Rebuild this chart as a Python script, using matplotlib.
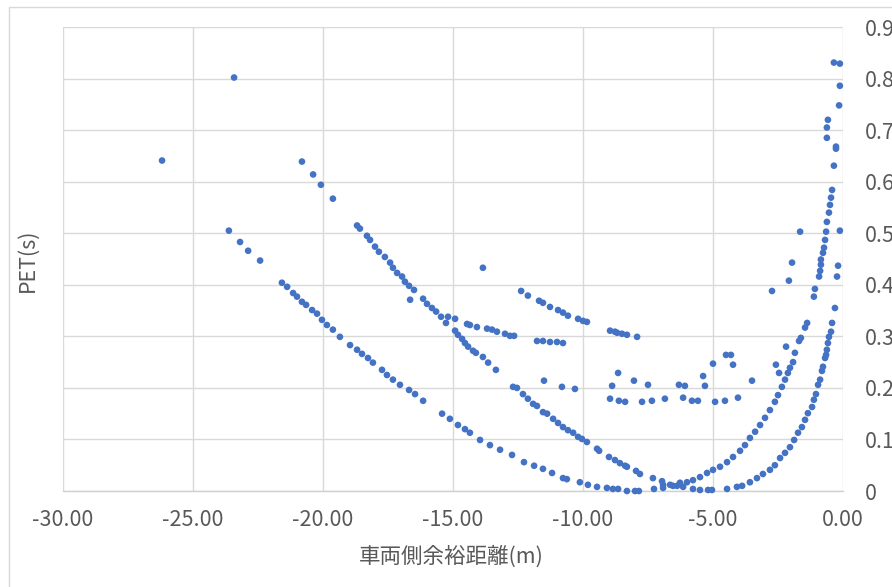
import matplotlib.pyplot as plt
import numpy as np
from matplotlib.patches import Rectangle

plt.rcParams['font.family'] = ['Noto Sans CJK JP', 'DejaVu Sans']

# x = 車両側余裕距離 (m), y = PET (s)
outlier_x = [-26.19, -23.42, -13.85, -16.65]
outlier_y = [0.641, 0.802, 0.433, 0.371]

curve_a_x = [-23.62, -23.19, -22.88, -22.42, -21.58, -21.38, -21.15, -21.00, -20.81, -20.65,
             -20.42, -20.23, -20.04, -19.85, -19.62, -19.35, -18.96, -18.69, -18.50, -18.27,
             -18.08, -17.73, -17.54, -17.31, -17.04, -16.69, -16.46, -16.15, -15.42, -15.12,
             -14.81, -14.54, -14.35, -13.96, -13.58, -13.19, -12.73, -12.27, -11.88, -11.54,
             -11.19, -10.77, -10.62, -10.12, -9.81, -9.46, -9.08, -8.85, -8.65, -8.31,
             -8.00, -7.85, -7.27, -6.92, -6.54, -6.15, -5.77, -5.50, -5.19, -5.04, -4.46]
curve_a_y = [0.505, 0.483, 0.466, 0.447, 0.404, 0.396, 0.384, 0.377, 0.367, 0.361,
             0.351, 0.344, 0.332, 0.322, 0.313, 0.299, 0.283, 0.274, 0.266, 0.258,
             0.249, 0.235, 0.225, 0.216, 0.206, 0.196, 0.188, 0.175, 0.150, 0.140,
             0.128, 0.120, 0.113, 0.099, 0.089, 0.080, 0.070, 0.056, 0.049, 0.043,
             0.035, 0.025, 0.023, 0.017, 0.012, 0.008, 0.006, 0.004, 0.004, 0.000,
             0.000, 0.000, 0.004, 0.006, 0.010, 0.008, 0.004, 0.002, 0.002, 0.002, 0.004]

curve_b_x = [-20.81, -20.38, -20.08, -19.62, -18.69, -18.58, -18.31, -18.19, -18.00, -17.85,
             -17.62, -17.42, -17.31, -17.15, -16.96, -16.85, -16.69, -16.50, -16.15, -16.00,
             -15.81, -15.65, -15.46, -15.27, -14.92, -14.81, -14.65, -14.54, -14.42, -14.23,
             -14.12, -13.85, -13.65, -13.35, -12.69, -12.54, -12.31, -12.12, -11.92, -11.77,
             -11.54, -11.38, -11.15, -10.96, -10.77, -10.58, -10.38, -10.19, -10.04, -9.85,
             -9.46, -9.38, -9.00, -8.77, -8.58, -8.38, -8.31, -7.96, -7.81, -7.31,
             -6.96, -6.92, -6.38]
curve_b_y = [0.639, 0.614, 0.594, 0.567, 0.515, 0.509, 0.495, 0.487, 0.474, 0.464,
             0.454, 0.443, 0.433, 0.423, 0.416, 0.406, 0.398, 0.390, 0.373, 0.363,
             0.355, 0.348, 0.338, 0.326, 0.311, 0.303, 0.295, 0.287, 0.280, 0.272,
             0.268, 0.260, 0.249, 0.235, 0.202, 0.200, 0.188, 0.179, 0.169, 0.165,
             0.153, 0.150, 0.140, 0.132, 0.124, 0.118, 0.113, 0.105, 0.101, 0.095,
             0.082, 0.078, 0.066, 0.060, 0.054, 0.049, 0.047, 0.039, 0.033, 0.025,
             0.019, 0.012, 0.010]

curve_c_x = [-6.65, -6.27, -6.00, -5.77, -5.50, -5.23, -5.00, -4.73, -4.46, -4.23,
             -3.96, -3.77, -3.58, -3.38, -3.19, -3.00, -2.81, -2.62, -2.50, -2.35,
             -2.23, -2.12, -2.04, -1.92, -1.85, -1.69, -1.62, -1.46, -1.38, -1.12,
             -1.08, -0.92, -0.88, -0.85, -0.85, -0.77, -0.73, -0.69, -0.65, -0.62,
             -0.54, -0.50, -0.46, -0.42, -0.35, -0.27, -0.27, -0.62, -0.58, -0.62]
curve_c_y = [0.012, 0.016, 0.017, 0.021, 0.027, 0.035, 0.041, 0.047, 0.056, 0.066,
             0.078, 0.089, 0.103, 0.115, 0.128, 0.142, 0.157, 0.173, 0.186, 0.202,
             0.216, 0.229, 0.239, 0.250, 0.268, 0.291, 0.297, 0.317, 0.326, 0.377,
             0.392, 0.416, 0.427, 0.439, 0.449, 0.462, 0.472, 0.487, 0.503, 0.522,
             0.540, 0.555, 0.569, 0.584, 0.631, 0.664, 0.668, 0.705, 0.720, 0.685]

curve_d_x = [-4.08, -3.88, -3.58, -3.31, -3.08, -2.81, -2.62, -2.42, -2.23, -2.04,
             -1.88, -1.73, -1.58, -1.46, -1.35, -1.19, -1.12, -1.04, -0.96, -0.88,
             -0.81, -0.77, -0.69, -0.65, -0.62, -0.58, -0.54, -0.46, -0.42, -0.31,
             -0.23, -0.19, -0.12, -0.15, -0.12, -0.12, -0.35]
curve_d_y = [0.008, 0.010, 0.017, 0.025, 0.033, 0.041, 0.050, 0.064, 0.074, 0.085,
             0.099, 0.113, 0.124, 0.138, 0.151, 0.163, 0.177, 0.188, 0.206, 0.216,
             0.233, 0.241, 0.258, 0.264, 0.274, 0.287, 0.299, 0.309, 0.326, 0.355,
             0.416, 0.437, 0.505, 0.748, 0.786, 0.829, 0.831]

curve_e_x = [-12.38, -12.12, -11.69, -11.54, -11.27, -10.96, -10.77, -10.58, -10.19, -10.00,
             -9.85, -8.96, -8.77, -8.69, -8.50, -8.31, -7.92]
curve_e_y = [0.388, 0.379, 0.369, 0.365, 0.357, 0.351, 0.346, 0.340, 0.334, 0.330,
             0.328, 0.311, 0.309, 0.307, 0.305, 0.303, 0.299]

curve_f_x = [-15.19, -14.92, -14.46, -14.35, -14.08, -13.69, -13.50, -13.31, -13.00, -12.81,
             -12.65, -11.77, -11.54, -11.27, -11.00, -10.77]
curve_f_y = [0.338, 0.334, 0.324, 0.322, 0.318, 0.315, 0.313, 0.309, 0.305, 0.301,
             0.301, 0.291, 0.291, 0.289, 0.289, 0.287]

scatter_x = [-11.50, -10.81, -10.31, -8.88, -8.65, -8.04, -7.50, -6.31, -6.08, -5.38,
             -5.31, -5.00, -4.50, -4.31, -4.23, -3.50, -2.73, -2.58, -2.46, -2.19,
             -2.08, -1.96, -1.65,
             -8.96, -8.62, -8.38, -7.73, -7.35, -6.85, -6.15, -5.81, -5.58, -4.92,
             -4.54, -4.04]
scatter_y = [0.214, 0.202, 0.198, 0.204, 0.229, 0.214, 0.206, 0.206, 0.204, 0.223,
             0.204, 0.247, 0.264, 0.264, 0.245, 0.214, 0.388, 0.245, 0.229, 0.280,
             0.408, 0.443, 0.503,
             0.179, 0.175, 0.173, 0.173, 0.175, 0.179, 0.181, 0.175, 0.175, 0.173,
             0.175, 0.181]

xs = np.concatenate([outlier_x, curve_a_x, curve_b_x, curve_c_x, curve_d_x,
                     curve_e_x, curve_f_x, scatter_x])
ys = np.concatenate([outlier_y, curve_a_y, curve_b_y, curve_c_y, curve_d_y,
                     curve_e_y, curve_f_y, scatter_y])

fig = plt.figure(figsize=(8.92, 5.87), dpi=100, facecolor='white')
ax = fig.add_axes([63/892, 1 - 491/587, 780/892, 464/587])

ax.scatter(xs, ys, s=23, color='#4472C4', edgecolors='none', zorder=3, clip_on=False)

ax.set_xlim(-30, 0)
ax.set_ylim(0, 0.9)
ax.set_xticks(np.arange(-30, 0.1, 5))
ax.set_xticklabels([f'{v:.2f}' for v in np.arange(-30, 0.1, 5)])
ax.set_yticks(np.arange(0, 0.91, 0.1))
ax.set_yticklabels(['0'] + [f'{v:.1f}' for v in np.arange(0.1, 0.91, 0.1)])
ax.yaxis.tick_right()

ax.grid(True, color='#D9D9D9', linewidth=1.0, zorder=0)
ax.set_axisbelow(True)
for side in ['top', 'left', 'right']:
    ax.spines[side].set_visible(False)
ax.spines['bottom'].set_color('#D0D0D0')
ax.spines['bottom'].set_linewidth(1.0)

ax.tick_params(axis='both', length=0, labelsize=15.5, labelcolor='#595959')
ax.tick_params(axis='x', pad=13)
ax.tick_params(axis='y', pad=16)

fig.text(451/892, 1 - 557/587, '車両側余裕距離(m)', ha='center', va='center',
         fontsize=15.5, color='#595959')
fig.text(28/892, 1 - 260/587, 'PET(s)', ha='center', va='center', rotation=90,
         fontsize=15.5, color='#595959')

# light chart border (right and bottom edges fall outside the image)
fig.patches.append(Rectangle((9/892, -0.1), 1.2, 1.1 - 7/587, transform=fig.transFigure,
                             fill=False, edgecolor='#D9D9D9', linewidth=1.0))

plt.savefig('out.png', dpi=100)
